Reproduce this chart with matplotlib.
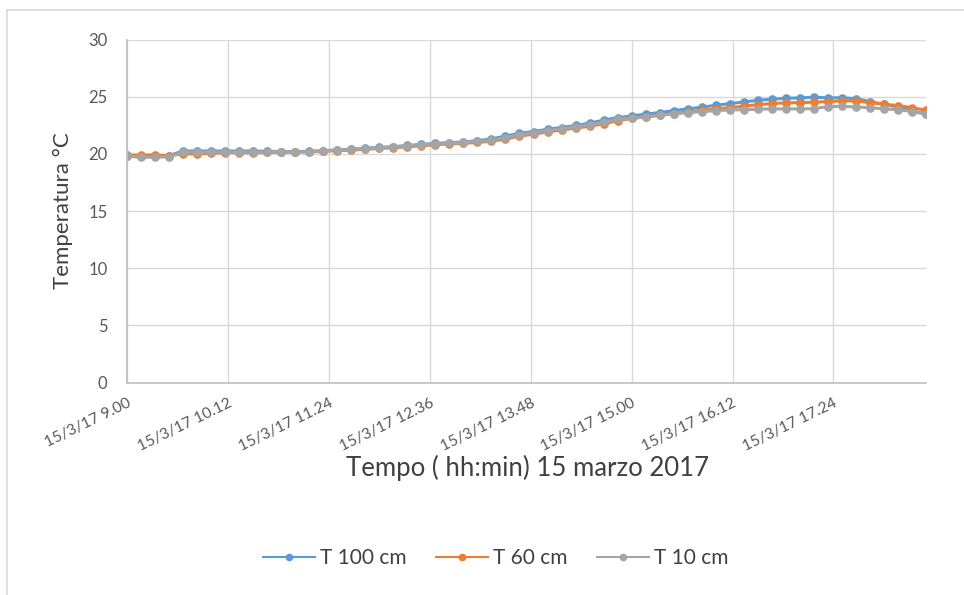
import matplotlib
matplotlib.use("Agg")
import matplotlib.pyplot as plt
import numpy as np
from matplotlib.lines import Line2D

# ---- data (10-minute readings, 15 March 2017, 9:00 -> 18:30) ----
start_minute = 9 * 60
step_minutes = 10

t100 = [19.9, 19.85, 19.85, 19.85, 20.25, 20.25, 20.25, 20.25, 20.25, 20.25,
        20.22, 20.2, 20.2, 20.22, 20.28, 20.34, 20.4, 20.48, 20.56, 20.63,
        20.73, 20.82, 20.92, 20.98, 21.04, 21.15, 21.3, 21.55, 21.8, 21.95,
        22.15, 22.3, 22.48, 22.68, 22.95, 23.17, 23.32, 23.47, 23.61, 23.78,
        23.93, 24.08, 24.25, 24.39, 24.54, 24.68, 24.78, 24.86, 24.89, 24.95,
        24.9, 24.9, 24.83, 24.57, 24.34, 24.1, 23.76, 23.5]
t60 = [19.85, 19.9, 19.9, 19.85, 20.0, 20.0, 20.05, 20.1, 20.1, 20.1,
       20.12, 20.15, 20.15, 20.17, 20.22, 20.28, 20.33, 20.4, 20.47, 20.53,
       20.62, 20.7, 20.8, 20.86, 20.92, 21.0, 21.1, 21.3, 21.55, 21.72,
       21.92, 22.08, 22.25, 22.42, 22.62, 22.9, 23.1, 23.23, 23.38, 23.52,
       23.67, 23.8, 23.93, 24.05, 24.17, 24.3, 24.4, 24.46, 24.48, 24.52,
       24.57, 24.63, 24.63, 24.48, 24.34, 24.22, 24.04, 23.82]
t10 = [19.8, 19.7, 19.7, 19.75, 20.15, 20.15, 20.15, 20.15, 20.15, 20.15,
       20.15, 20.18, 20.18, 20.2, 20.26, 20.32, 20.38, 20.46, 20.53, 20.6,
       20.7, 20.79, 20.87, 20.93, 20.99, 21.08, 21.2, 21.42, 21.66, 21.83,
       22.04, 22.18, 22.36, 22.53, 22.75, 23.03, 23.12, 23.23, 23.38, 23.49,
       23.61, 23.69, 23.78, 23.84, 23.86, 23.9, 23.93, 23.93, 23.93, 23.95,
       24.13, 24.16, 24.1, 24.04, 23.93, 23.87, 23.7, 23.47]

series_names = ["T 100 cm", "T 60 cm", "T 10 cm"]
tick_labels = ["15/3/17 9.00", "15/3/17 10.12", "15/3/17 11.24", "15/3/17 12.36",
               "15/3/17 13.48", "15/3/17 15.00", "15/3/17 16.12", "15/3/17 17.24"]
tick_step_minutes = 72
y_ticks = [0, 5, 10, 15, 20, 25, 30]

colors = ["#5B9BD5", "#ED7D31", "#A5A5A5"]

x = start_minute + step_minutes * np.arange(len(t100))

plt.rcParams['font.family'] = ['Lato', 'DejaVu Sans']

fig = plt.figure(figsize=(9.64, 5.95), dpi=100)
W, H = 964, 595
ax = fig.add_axes([127 / W, 1 - 382.5 / H, (926 - 127) / W, (382.5 - 39.5) / H])

for vals, name, c in zip([t100, t60, t10], series_names, colors):
    ax.plot(x, vals, color=c, lw=2.2, marker='o', ms=5.2, mec=c, mfc=c,
            label=name, solid_joinstyle='round')

ax.set_xlim(x[0], x[-1])
ax.set_ylim(0, 30)
ax.set_yticks(y_ticks)
xt = start_minute + tick_step_minutes * np.arange(len(tick_labels))
ax.set_xticks(xt)
ax.set_xticklabels(tick_labels, rotation=26, ha='right', va='top',
                   rotation_mode='anchor', fontsize=11.2, color='#595959')
ax.tick_params(axis='y', labelsize=12, colors='#595959', length=0, pad=14)
ax.tick_params(axis='x', length=0, pad=10)
ax.grid(True, color='#D9D9D9', lw=1.0)
ax.set_axisbelow(True)
for s in ['top', 'right']:
    ax.spines[s].set_visible(False)
for s in ['left', 'bottom']:
    ax.spines[s].set_color('#BFBFBF')
    ax.spines[s].set_linewidth(1.2)

ax.set_ylabel("Temperatura °C", fontsize=16, color='#404040', labelpad=11)
fig.text(527 / W, 1 - 476 / H, "Tempo ( hh:min) 15 marzo 2017", fontsize=18.5,
         color='#404040', ha='center', va='baseline')

handles = [Line2D([0], [0], color=c, lw=1.5, marker='o', ms=4.5, mec=c, mfc=c)
           for c in colors]
fig.legend(handles, series_names, loc='center', bbox_to_anchor=(496 / W, 1 - 558 / H),
           ncol=3, frameon=False, fontsize=15, handlelength=2.5, columnspacing=1.4,
           labelcolor='#404040', handletextpad=0.25)

# chart-area border (top and left visible in the crop)
fig.add_artist(Line2D([7 / W, 1], [1 - 10 / H, 1 - 10 / H], color='#D9D9D9', lw=1.2,
                      transform=fig.transFigure))
fig.add_artist(Line2D([7 / W, 7 / W], [0, 1 - 10 / H], color='#D9D9D9', lw=1.2,
                      transform=fig.transFigure))

fig.savefig("out.png", dpi=100)
